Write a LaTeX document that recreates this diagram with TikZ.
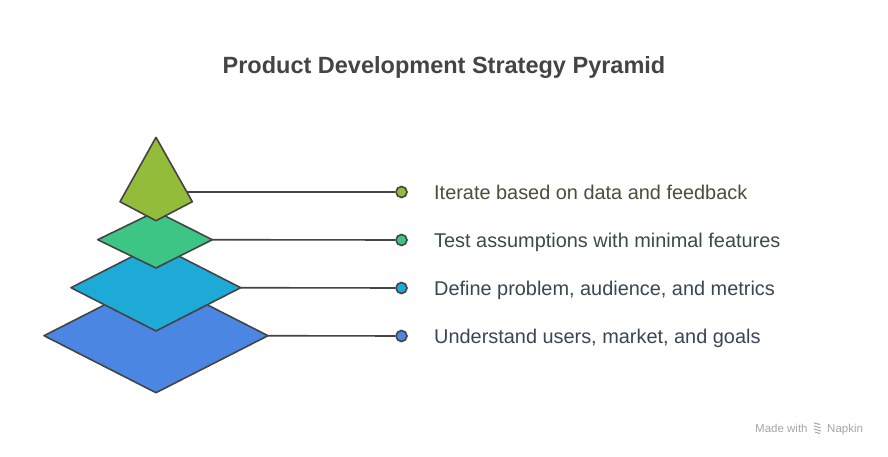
\documentclass[tikz,border=0pt]{standalone}
\usepackage{fontspec}
\setmainfont{Liberation Sans}
\definecolor{edge}{HTML}{444444}
\definecolor{ctop}{HTML}{93BC3A}
\definecolor{cgreen}{HTML}{3DC585}
\definecolor{ccyan}{HTML}{1EAAD7}
\definecolor{cblue}{HTML}{4B86E2}
\definecolor{tone}{HTML}{4A4E3A}
\definecolor{ttwo}{HTML}{3B4B45}
\definecolor{tthree}{HTML}{3A4750}
\definecolor{tfour}{HTML}{3B4558}
\definecolor{wm}{HTML}{A6A6A6}
\tikzset{
  layer/.style={draw=edge, line width=1.6pt, line join=round},
  conn/.style={draw=edge, line width=1.6pt},
  dot/.style={circle, draw=edge, line width=1.6pt, minimum size=11pt, inner sep=0pt},
  lbl/.style={anchor=base west, inner sep=0pt, font=\fontsize{19.9}{22}\selectfont},
}
\begin{document}
\begin{tikzpicture}[x=1pt,y=-1pt]
\useasboundingbox (0,0) rectangle (888,456);
\fill[white] (0,0) rectangle (888,456);
% title
\node[font=\bfseries\fontsize{23.5}{26}\selectfont, text=edge] (title) at (444,67.5) {Product Development Strategy Pyramid};
% layers
\path[layer, fill=cblue] (156,278.7) -- (268,335.7) -- (156,392.7) -- (44,335.7) -- cycle;
\path[layer, fill=ccyan] (156,244.4) -- (240.7,287.7) -- (156,331) -- (71,287.7) -- cycle;
\path[layer, fill=cgreen] (156,211.4) -- (212.3,239.7) -- (156,268) -- (97.7,239.7) -- cycle;
\path[layer, fill=ctop] (156,137.3) -- (192.3,201.7) -- (156,220.7) -- (120,201.7) -- cycle;
\coordinate (e1) at (186.5,192);
\coordinate (e2) at (212.3,239.7);
\coordinate (e3) at (240.7,287.7);
\coordinate (e4) at (268,335.7);
% dots
\node[dot, fill=ctop] (d1) at (401.5,192) {};
\node[dot, fill=cgreen] (d2) at (401.5,240) {};
\node[dot, fill=ccyan] (d3) at (401.5,288) {};
\node[dot, fill=cblue] (d4) at (401.5,336) {};
\draw[conn] (e1) -- (d1);
\draw[conn] (e2) -- (d2);
\draw[conn] (e3) -- (d3);
\draw[conn] (e4) -- (d4);
% labels
\node[lbl, text=tone] (l1) at (434,199) {Iterate based on data and feedback};
\node[lbl, text=ttwo] (l2) at (434,247) {Test assumptions with minimal features};
\node[lbl, text=tthree] (l3) at (434,295) {Define problem, audience, and metrics};
\node[lbl, text=tfour] (l4) at (434,343) {Understand users, market, and goals};
% watermark
\node[anchor=base west, inner sep=0pt, text=wm, font=\fontsize{11.5}{13}\selectfont] (wm1) at (755,432) {Made with};
\node[anchor=base west, inner sep=0pt, text=wm, font=\fontsize{11.5}{13}\selectfont] (wm2) at (827,432) {Napkin};
\draw[wm, line width=1pt] (814,423) -- (820,424.5) (814,426) -- (821,428) (814,429) -- (821,431) (815,432) -- (820,433.5);
\end{tikzpicture}
\end{document}
